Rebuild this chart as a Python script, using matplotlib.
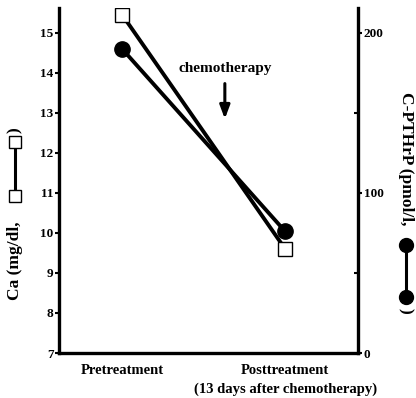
import matplotlib.pyplot as plt
from matplotlib.lines import Line2D

plt.rcParams['font.family'] = ['Liberation Serif', 'DejaVu Serif']
plt.rcParams['font.weight'] = 'bold'

stages = ["Pretreatment", "Posttreatment\n(13 days after chemotherapy)"]
ca = [15.45, 9.6]          # mg/dl
pthrp = [190, 76]          # pmol/l

ca_ticks = [7, 8, 9, 10, 11, 12, 13, 14, 15]
pth_ticks = [0, 100, 200]
pth_minor = [50, 150]

x = [1, 2]

fig = plt.figure(figsize=(4.16, 3.98), dpi=100)
ax = fig.add_axes([0.142, 0.113, 0.719, 0.867])
ax2 = ax.twinx()

for a in (ax, ax2):
    for s in a.spines.values():
        s.set_linewidth(2.4)
    a.spines['top'].set_visible(False)
ax.spines['right'].set_visible(False)
ax2.spines['left'].set_visible(False)
ax2.spines['bottom'].set_visible(False)

ax2.plot(x, pthrp, color='black', lw=2.8, marker='o', ms=11, zorder=3)
ax.plot(x, ca, color='black', lw=2.8, marker='s', ms=10,
        markerfacecolor='white', markeredgecolor='black', markeredgewidth=1.0, zorder=3)
ax.set_zorder(ax2.get_zorder() + 1)
ax.patch.set_visible(False)

ax.set_xlim(0.613, 2.448)
ax.set_ylim(7, 15.62)
ax2.set_ylim(0, 215.6)

ax.set_yticks(ca_ticks)
ax.tick_params(axis='y', direction='out', length=3, width=1.5, labelsize=9.5, pad=1)
ax.set_xticks(x)
ax.set_xticklabels(stages, fontsize=10.5, linespacing=1.5)
ax.tick_params(axis='x', length=0, pad=8)

ax2.set_yticks(pth_ticks)
ax2.set_yticks(pth_minor, minor=True)
ax2.tick_params(axis='y', which='major', direction='out', length=3, width=1.5, labelsize=9.5, pad=1)
ax2.tick_params(axis='y', which='minor', direction='in', length=3, width=1.5)

ax.text(1.63, 14.1, "chemotherapy", ha='center', va='center', fontsize=11)
ax.annotate("", xy=(1.63, 12.78), xytext=(1.63, 13.8),
            arrowprops=dict(arrowstyle='-|>,head_length=0.8,head_width=0.3', lw=2.2, color='black'))

# left axis label with symbol key
fig.text(0.035, 0.245, "Ca (mg/dl,", rotation=90, ha='center', va='bottom', fontsize=12.5)
fig.add_artist(Line2D([0.035, 0.035], [0.508, 0.643], transform=fig.transFigure, color='black', lw=2.2,
                      marker='s', ms=9, markerfacecolor='white', markeredgecolor='black', markeredgewidth=1.0))
fig.text(0.035, 0.665, ")", rotation=90, ha='center', va='bottom', fontsize=12.5)

# right axis label with symbol key
fig.text(0.975, 0.77, "C-PTHrP (pmol/l,", rotation=-90, ha='center', va='top', fontsize=12.5)
fig.add_artist(Line2D([0.975, 0.975], [0.385, 0.255], transform=fig.transFigure, color='black', lw=2.2,
                      marker='o', ms=10))
fig.text(0.975, 0.225, ")", rotation=-90, ha='center', va='top', fontsize=12.5)

fig.savefig("out.png", dpi=100)
